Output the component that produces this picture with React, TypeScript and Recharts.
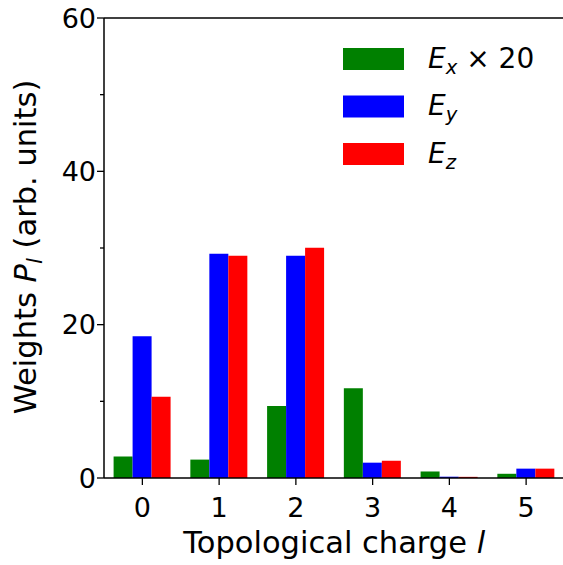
import React from 'react';
import { BarChart, Bar, XAxis, YAxis, Legend, ReferenceLine, Label } from 'recharts';

const categories = ['0', '1', '2', '3', '4', '5'];
const exTimes20 = [2.8, 2.4, 9.4, 11.7, 0.85, 0.55];
const ey = [18.5, 29.26, 29.0, 2.0, 0.17, 1.22];
const ez = [10.6, 29.0, 30.04, 2.25, 0.15, 1.22];
const yTicks = [0, 10, 20, 30, 40, 50, 60];
const majorYTicks = [0, 20, 40, 60];

const seriesKeys = ['ex', 'ey', 'ez'];
const seriesColors = ['#008000', '#0000ff', '#ff0000'];
const seriesSub = ['x', 'y', 'z'];
const seriesSuffix = [' \u00d7 20', '', ''];

const data = categories.map((c, i) => ({ cat: c, ex: exTimes20[i], ey: ey[i], ez: ez[i] }));

const FONT = 'DejaVu Sans';
const FS = 27;
const LFS = 30.5;
const LEGFS = 28;

const YTick = (props: any) => {
  const { x, y, payload } = props;
  const major = majorYTicks.includes(payload.value);
  const len = major ? 7 : 4;
  return (
    <g>
      <line x1={x - len} x2={x} y1={y} y2={y} stroke="#000" strokeWidth={1.3} />
      {major && (
        <text x={x - 8} y={y + 9.8} textAnchor="end" fontFamily={FONT} fontSize={FS} fill="#000">
          {payload.value}
        </text>
      )}
    </g>
  );
};

const XTick = (props: any) => {
  const { x, y, payload } = props;
  return (
    <g>
      <line x1={x} x2={x} y1={y} y2={y + 7} stroke="#000" strokeWidth={1.3} />
      <text x={x} y={y + 38.5} textAnchor="middle" fontFamily={FONT} fontSize={FS} fill="#000">
        {payload.value}
      </text>
    </g>
  );
};

const XLabel = (props: any) => {
  const vb = props.viewBox || {};
  const cx = vb.x + vb.width / 2;
  return (
    <text x={cx} y={553} textAnchor="middle" fontFamily={FONT} fontSize={LFS} fill="#000">
      Topological charge <tspan fontStyle="italic">l</tspan>
    </text>
  );
};

const YLabel = () => {
  const cy = 247;
  const cx = 36;
  return (
    <text x={cx} y={cy} transform={`rotate(-90 ${cx} ${cy})`} textAnchor="middle" fontFamily={FONT} fontSize={LFS} fill="#000">
      Weights <tspan fontStyle="italic">P</tspan>
      <tspan fontStyle="italic" fontSize={LFS * 0.7} dy={6}>l</tspan>
      <tspan dy={-6}> (arb. units)</tspan>
    </text>
  );
};

const LegendContent = (props: any) => {
  const payload = props.payload || [];
  return (
    <svg width={220} height={130} style={{ overflow: 'visible', display: 'block' }}>
      {payload.map((p: any, i: number) => {
        const idx = seriesKeys.indexOf(p.dataKey);
        const top = i * 47.5;
        return (
          <g key={i}>
            <rect x={0} y={top} width={61} height={22} fill={p.color} />
            <text x={85} y={top + 19.5} fontFamily={FONT} fontSize={LEGFS} fill="#000">
              <tspan fontStyle="italic">E</tspan>
              <tspan fontStyle="italic" fontSize={LEGFS * 0.7} dy={6}>{seriesSub[idx]}</tspan>
              <tspan dy={-6}>{seriesSuffix[idx]}</tspan>
            </text>
          </g>
        );
      })}
    </svg>
  );
};

export default function App() {
  return (
    <div style={{ position: 'fixed', left: 0, top: 0, width: 563, height: 565, overflow: 'hidden', background: '#fff' }}>
      <BarChart
        width={580}
        height={565}
        data={data}
        margin={{ top: 18, right: 15.5, left: 0, bottom: 0 }}
        barCategoryGap="12.5%"
        barGap={0}
      >
        <XAxis
          dataKey="cat"
          height={87}
          tick={<XTick />}
          tickLine={false}
          tickSize={0}
          tickMargin={0}
          axisLine={{ stroke: '#000', strokeWidth: 1.5 }}
          interval={0}
        >
          <Label content={<XLabel />} />
        </XAxis>
        <YAxis
          width={104}
          domain={[0, 60]}
          ticks={yTicks}
          tick={<YTick />}
          tickLine={false}
          tickSize={0}
          tickMargin={0}
          axisLine={{ stroke: '#000', strokeWidth: 1.5 }}
          interval={0}
        >
          <Label content={<YLabel />} />
        </YAxis>
        <ReferenceLine y={60} stroke="#000" strokeWidth={1.5} />
        <Legend
          content={<LegendContent />}
          wrapperStyle={{ position: 'absolute', left: 343, top: 48, width: 0, height: 0, overflow: 'visible' }}
        />
        {seriesKeys.map((k, i) => (
          <Bar key={k} dataKey={k} fill={seriesColors[i]} isAnimationActive={false} />
        ))}
      </BarChart>
    </div>
  );
}
